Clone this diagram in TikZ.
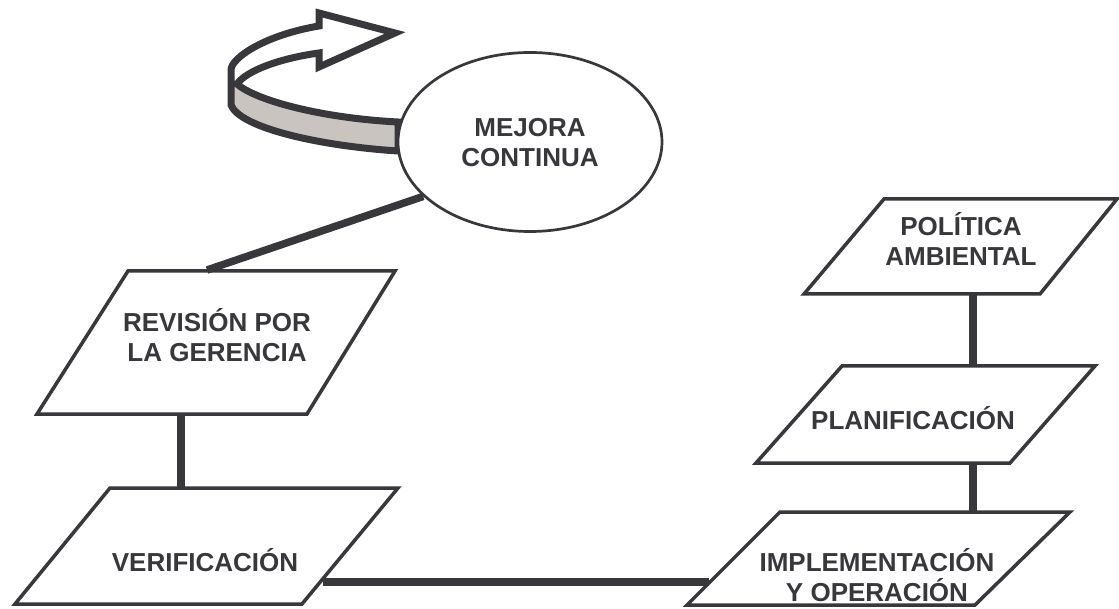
\documentclass[tikz,border=0pt]{standalone}
\usepackage{fontspec}
\setmainfont{Liberation Sans}
\usetikzlibrary{shapes.geometric}
\definecolor{ink}{RGB}{55,55,60}
\definecolor{bandgrey}{RGB}{202,196,193}
\begin{document}
\begin{tikzpicture}[x=1pt,y=-1pt,
  pbox/.style={draw=ink,line width=3.5pt,line join=miter,fill=white},
  lbl/.style={text=ink,font=\bfseries\fontsize{26}{30}\selectfont,align=center,inner sep=0pt},
  link/.style={draw=ink,line width=7.5pt},
  arrowline/.style={draw=ink,line width=7pt,line join=miter}]
\useasboundingbox[fill=white] (0,0) rectangle (1119,609);

% curved 3D arrow
\fill[bandgrey] (237,84) .. controls (255,100) and (320,118) .. (398,122)
  -- (398,151) .. controls (320,146) and (240,128) .. (231,105) -- (231,90) -- cycle;
\draw[arrowline] (398,151) .. controls (320,146) and (240,128) .. (231,105)
  -- (231,70) .. controls (231,58) and (265,35) .. (319,26)
  -- (319,13) -- (395,33) -- (319,67) -- (319,53)
  .. controls (282,58) and (247,70) .. (237,84)
  .. controls (255,100) and (320,118) .. (398,122) -- cycle;

% ellipse
\node[ellipse,draw=ink,line width=2.7pt,fill=white,minimum width=264pt,minimum height=179pt,inner sep=0pt] (mc) at (530,142) {};
\node[lbl] (mct) at (530,143) {MEJORA\\CONTINUA};

% parallelograms
\draw[pbox] (128,271) -- (395,271) -- (307,414) -- (37,414) -- cycle;
\draw[pbox] (110,488) -- (398,488) -- (302,604) -- (15,604) -- cycle;
\draw[pbox] (884,199) -- (1117,199) -- (1040,294) -- (804,294) -- cycle;
\draw[pbox] (842,366) -- (1095,366) -- (1010,463) -- (756,463) -- cycle;
\draw[pbox] (780,512) -- (1070,512) -- (975,605) -- (687,605) -- cycle;

\node[lbl] (rev) at (217,335) {REVISIÓN POR\\LA GERENCIA};
\node[lbl] (ver) at (205,560) {VERIFICACIÓN};
\node[lbl] (pol) at (961,239) {POLÍTICA\\AMBIENTAL};
\node[lbl] (pla) at (913,418) {PLANIFICACIÓN};
\node[lbl] (imp) at (877,575) {IMPLEMENTACIÓN\\Y OPERACIÓN};

% connector end points
\coordinate (revT) at (207,270);
\coordinate (revB) at (181,415);
\coordinate (verT) at (181,487);
\coordinate (verR) at (323,582);
\coordinate (impL) at (709,582);
\coordinate (polB) at (973,295);
\coordinate (plaT) at (973,365);
\coordinate (plaB) at (973,464);
\coordinate (impT) at (973,511);

\draw[link] (mc.207) -- (revT);
\draw[link] (revB) -- (verT);
\draw[link] (verR) -- (impL);
\draw[link] (polB) -- (plaT);
\draw[link] (plaB) -- (impT);
\end{tikzpicture}
\end{document}
